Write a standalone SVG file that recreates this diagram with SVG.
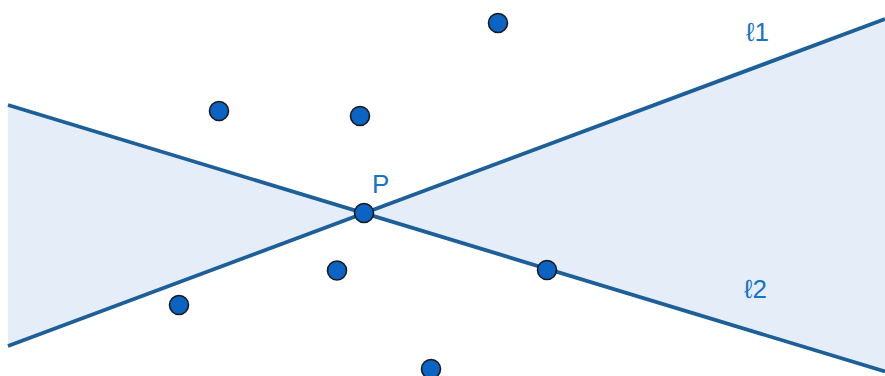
<svg xmlns="http://www.w3.org/2000/svg" width="885" height="376" viewBox="0 0 885 376">
<style>
.region{fill:#e5eef8;stroke:none}
.line{stroke:#1c5f99;stroke-width:3.8;fill:none;stroke-linecap:butt}
.pt{fill:#0b63c4;stroke:#1a1a1a;stroke-width:1.6}
.lbl{font-family:"Liberation Sans","DejaVu Sans",Arial,sans-serif;font-size:26px;fill:#1a73c8}
</style>
<rect width="885" height="376" fill="#ffffff"/>
<g id="regions">
<polygon class="region" points="8,105 364,213 8,346"/>
<polygon class="region" points="364,213 885,19 885,371.5"/>
</g>
<g id="connectors">
<line id="l1" class="line" x1="8" y1="346" x2="885" y2="19"/>
<line id="l2" class="line" x1="8" y1="105" x2="885" y2="371.5"/>
</g>
<g id="label-l1"><text class="lbl" x="746" y="41">ℓ1</text></g>
<g id="label-l2"><text class="lbl" x="744" y="298">ℓ2</text></g>
<g id="node-P"><circle class="pt" cx="364" cy="213" r="9.5"/><text class="lbl" x="372" y="193">P</text></g>
<g id="node-a"><circle class="pt" cx="219" cy="111" r="9.5"/></g>
<g id="node-b"><circle class="pt" cx="360" cy="116" r="9.5"/></g>
<g id="node-c"><circle class="pt" cx="498" cy="23" r="9.5"/></g>
<g id="node-d"><circle class="pt" cx="179" cy="305" r="9.5"/></g>
<g id="node-e"><circle class="pt" cx="337" cy="270.5" r="9.5"/></g>
<g id="node-f"><circle class="pt" cx="547" cy="270" r="9.5"/></g>
<g id="node-g"><circle class="pt" cx="431" cy="369" r="9.5"/></g>
</svg>
